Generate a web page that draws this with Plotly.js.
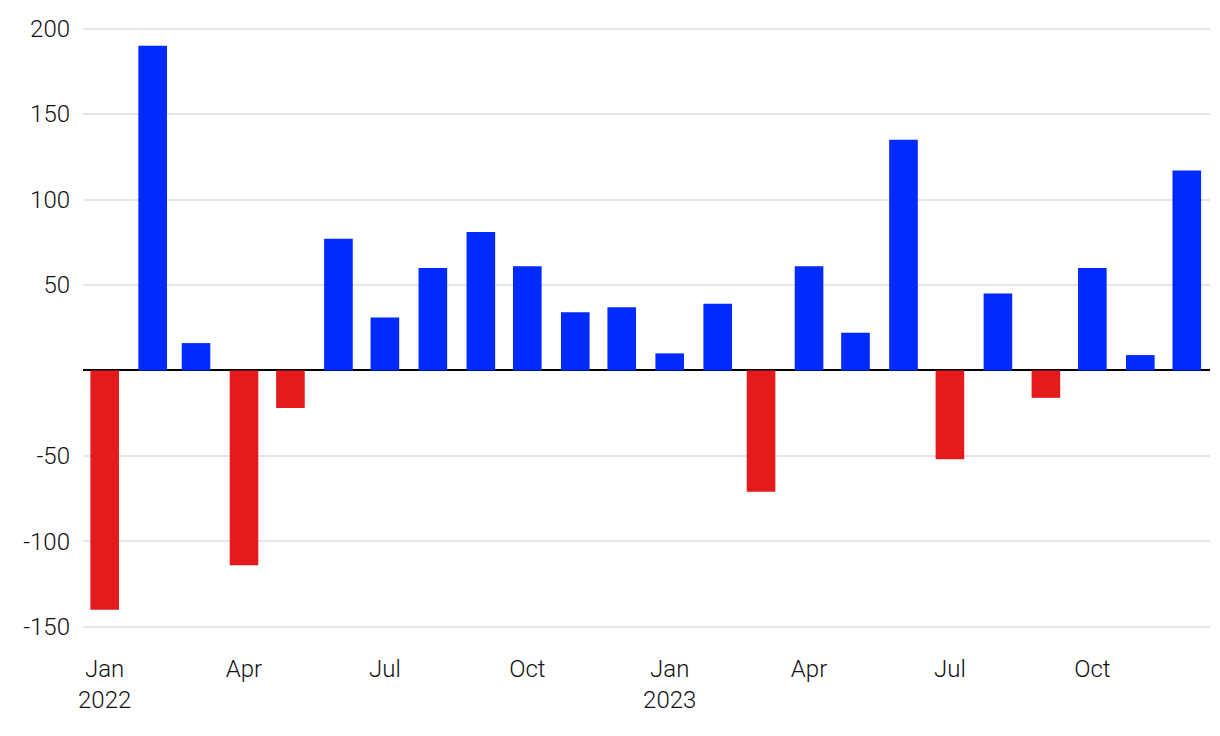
<!DOCTYPE html>
<html>
<head>
<meta charset="utf-8">
<script src="https://cdn.plot.ly/plotly-3.0.1.min.js"></script>
<style>html,body{margin:0;padding:0;background:#fff;}#chart{width:1220px;height:736px;}</style>
</head>
<body>
<div id="chart"></div>
<script>
const months = ["2022-01-01","2022-02-01","2022-03-01","2022-04-01","2022-05-01","2022-06-01",
  "2022-07-01","2022-08-01","2022-09-01","2022-10-01","2022-11-01","2022-12-01",
  "2023-01-01","2023-02-01","2023-03-01","2023-04-01","2023-05-01","2023-06-01",
  "2023-07-01","2023-08-01","2023-09-01","2023-10-01","2023-11-01","2023-12-01"];
const values = [-140, 190, 16, -114, -22, 77, 31, 60, 81, 61, 34, 37,
  10, 39, -71, 61, 22, 135, -52, 45, -16, 60, 9, 117];
const yTickVals = [200, 150, 100, 50, -50, -100, -150];
const yTickText = ["200", "150", "100", "50", "-50", "-100", "-150"];
const xTickVals = ["2022-01-01","2022-04-01","2022-07-01","2022-10-01","2023-01-01","2023-04-01","2023-07-01","2023-10-01"];
const xTickText = ["Jan<br>2022","Apr","Jul","Oct","Jan<br>2023","Apr","Jul","Oct"];

const colors = values.map(v => v < 0 ? "#e31b1d" : "#002aff");

const trace = {
  type: "bar",
  x: months,
  y: values,
  marker: {color: colors, line: {width: 0}},
  hoverinfo: "x+y"
};

const font = {family: "Roboto, Inter, 'Liberation Sans', sans-serif", size: 24, color: "#111", weight: 300};

const layout = {
  width: 1220,
  height: 736,
  margin: {l: 83, r: 10, t: 20, b: 92},
  paper_bgcolor: "#fff",
  plot_bgcolor: "#fff",
  bargap: 0.34,
  showlegend: false,
  font: font,
  xaxis: {
    type: "date",
    range: ["2021-12-18", "2023-12-16"],
    tickvals: xTickVals,
    ticktext: xTickText,
    showgrid: false,
    zeroline: false,
    showline: false,
    ticks: "",
    ticklabelstandoff: 8,
    tickfont: font,
    fixedrange: true
  },
  yaxis: {
    range: [-160, 205],
    tickvals: yTickVals,
    ticktext: yTickText,
    showgrid: true,
    gridcolor: "#e6e6e6",
    gridwidth: 2,
    zeroline: true,
    zerolinecolor: "#000",
    zerolinewidth: 2,
    showline: false,
    ticks: "",
    ticklabelstandoff: 12,
    tickfont: font,
    fixedrange: true
  }
};

Plotly.newPlot("chart", [trace], layout, {displayModeBar: false, staticPlot: true});
</script>
</body>
</html>
